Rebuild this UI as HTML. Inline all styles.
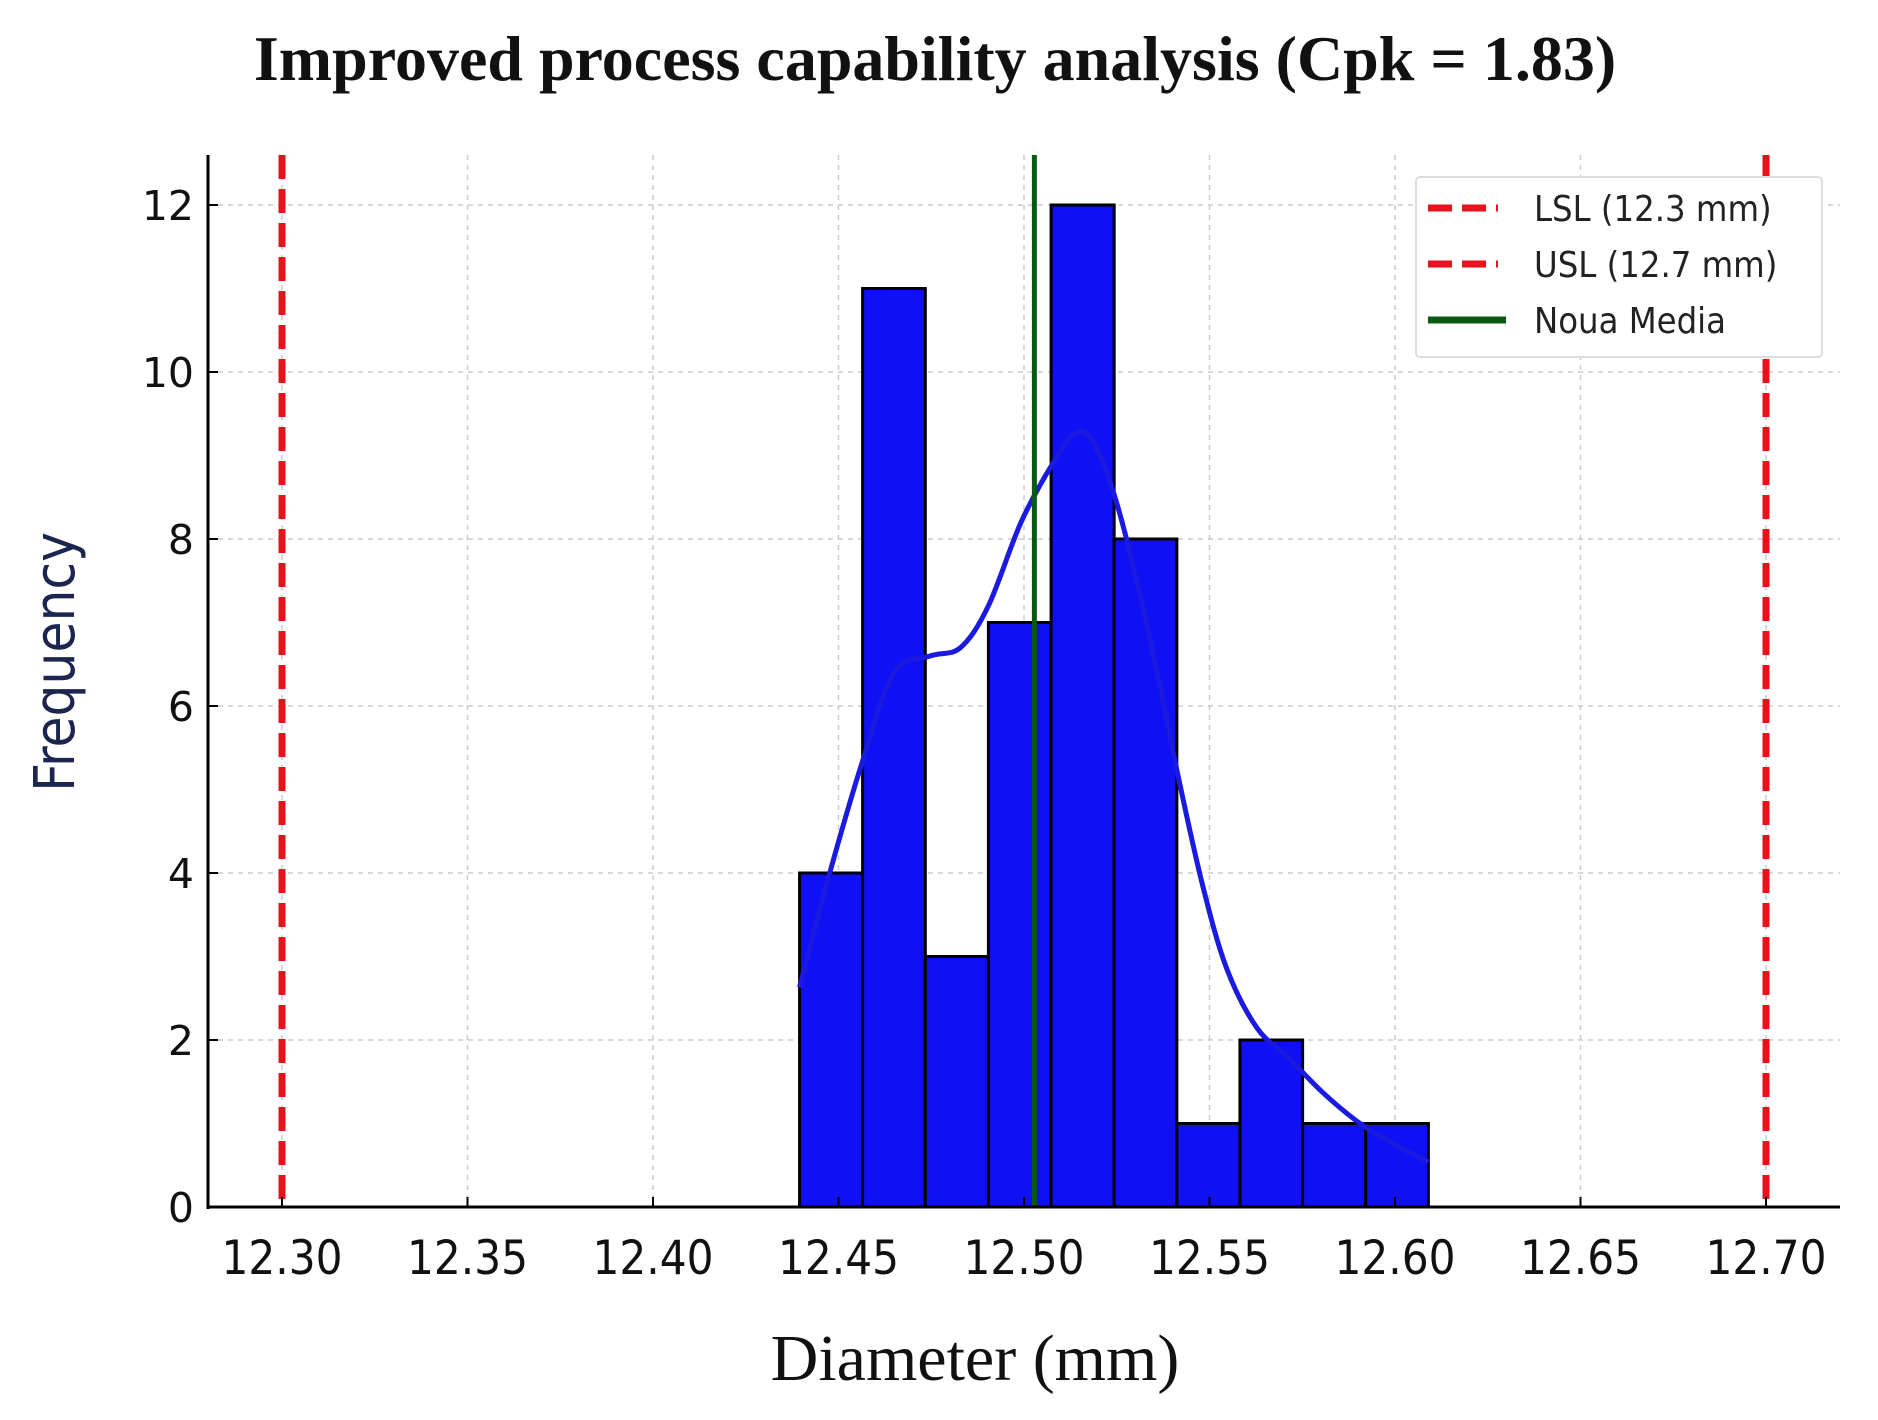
<!DOCTYPE html>
<html><head><meta charset="utf-8"><style>
body{margin:0;background:#fff}
svg{display:block}
</style></head><body>
<svg id="chart" width="1878" height="1420" viewBox="0 0 1878 1420" xmlns="http://www.w3.org/2000/svg">
<rect width="1878" height="1420" fill="#fff"/>
<text x="935" y="80" text-anchor="middle" font-family="Liberation Serif, serif" font-weight="bold" font-size="64" fill="#111">Improved process capability analysis (Cpk = 1.83)</text>
<g id="grid"></g>
<g id="bars"></g>
<g id="lines"></g>
<g id="axes"></g>
<text x="975" y="1380" text-anchor="middle" font-family="Liberation Serif, serif" font-size="66" fill="#111">Diameter (mm)</text>
<text transform="translate(74,662) rotate(-90)" text-anchor="middle" font-family="DejaVu Sans Condensed, DejaVu Sans, sans-serif" font-size="56" fill="#1b2550">Frequency</text>
<g>
<rect x="1416" y="177" width="406" height="180" fill="#fff" stroke="#ddd" stroke-width="2" rx="4"/>
<line x1="1428" y1="208" x2="1498" y2="208" stroke="#e8121a" stroke-width="7" stroke-dasharray="24,10"/>
<text x="1534" y="221" font-family="DejaVu Sans Condensed, DejaVu Sans, sans-serif" font-size="36" fill="#222">LSL (12.3 mm)</text>
<line x1="1428" y1="264" x2="1498" y2="264" stroke="#e8121a" stroke-width="7" stroke-dasharray="24,10"/>
<text x="1534" y="277" font-family="DejaVu Sans Condensed, DejaVu Sans, sans-serif" font-size="36" fill="#222">USL (12.7 mm)</text>
<line x1="1428" y1="320" x2="1506" y2="320" stroke="#0a5a12" stroke-width="7"/>
<text x="1534" y="333" font-family="DejaVu Sans Condensed, DejaVu Sans, sans-serif" font-size="36" fill="#222">Noua Media</text>
</g>
</svg>
<script>
const binEdges=[12.4395,12.4565,12.4734,12.4904,12.5073,12.5243,12.5412,12.5582,12.5751,12.5921,12.6090];
const counts=[4,11,3,7,12,8,1,2,1,1];
const kdeX=[12.4395,12.4470,12.4562,12.4650,12.4748,12.4829,12.4904,12.4992,12.5077,12.5139,12.5188,12.5252,12.5335,12.5416,12.5481,12.5546,12.5627,12.5710,12.5808,12.5906,12.6003,12.6090];
const kdeY=[2.63,3.9,5.3,6.4,6.6,6.7,7.2,8.2,8.9,9.27,9.15,8.4,6.9,5.15,3.86,2.86,2.15,1.8,1.36,1.0,0.74,0.54];
const xTicks=[12.30,12.35,12.40,12.45,12.50,12.55,12.60,12.65,12.70];
const yTicks=[0,2,4,6,8,10,12];
const lsl=12.3, usl=12.7, meanVal=12.5028;
const NS='http://www.w3.org/2000/svg';
const X=v=>282+(v-12.30)*3710;
const Y=v=>1207-v*83.5;
const L=208, R=1840, T=155, B=1207;
function mk(tag,attrs,parent,text){const e=document.createElementNS(NS,tag);for(const k in attrs)e.setAttribute(k,attrs[k]);if(text!==undefined)e.textContent=text;document.getElementById(parent).appendChild(e);return e;}
xTicks.forEach(t=>{
 const g=mk('line',{x1:X(t),x2:X(t),y1:T,y2:B,stroke:'#ccc','stroke-width':1.5,'stroke-dasharray':'5,5'},'grid');
 
 
});
yTicks.forEach(t=>{
 const g=mk('line',{x1:L,x2:R,y1:Y(t),y2:Y(t),stroke:'#ccc','stroke-width':1.5,'stroke-dasharray':'5,5'},'grid');
 
 
});
counts.forEach((c,i)=>{
 const r=mk('rect',{x:X(binEdges[i]),y:Y(c),width:X(binEdges[i+1])-X(binEdges[i]),height:Y(0)-Y(c),fill:'#1010f5',stroke:'#000','stroke-width':3},'bars');
 
 
});
const pts=kdeX.map((x,i)=>[X(x),Y(kdeY[i])]);
let d='M'+pts[0][0]+','+pts[0][1];
for(let i=0;i<pts.length-1;i++){
 const p0=pts[Math.max(0,i-1)],p1=pts[i],p2=pts[i+1],p3=pts[Math.min(pts.length-1,i+2)];
 d+=' C'+(p1[0]+(p2[0]-p0[0])/6)+','+(p1[1]+(p2[1]-p0[1])/6)+' '+(p2[0]-(p3[0]-p1[0])/6)+','+(p2[1]-(p3[1]-p1[1])/6)+' '+p2[0]+','+p2[1];
}
const kd=mk('path',{d:d,fill:'none',stroke:'#1a1ae0','stroke-width':5,'stroke-linejoin':'round'},'lines');


const l1=mk('line',{x1:X(lsl),x2:X(lsl),y1:T,y2:B,stroke:'#e8121a','stroke-width':7,'stroke-dasharray':'24,10'},'lines');


const l2=mk('line',{x1:X(usl),x2:X(usl),y1:T,y2:B,stroke:'#e8121a','stroke-width':7,'stroke-dasharray':'24,10'},'lines');


const m=mk('line',{x1:X(meanVal),x2:X(meanVal),y1:T,y2:B,stroke:'#0a5a12','stroke-width':5},'lines');


const ax1=mk('line',{x1:L,x2:L,y1:T,y2:B+2,stroke:'#000','stroke-width':3},'axes');


const ax2=mk('line',{x1:L-1,x2:R,y1:B,y2:B,stroke:'#000','stroke-width':3},'axes');


xTicks.forEach(t=>{
 const tk=mk('line',{x1:X(t),x2:X(t),y1:B,y2:B-10,stroke:'#000','stroke-width':2},'axes');
 
 
 const lb=mk('text',{x:X(t),y:1274,'text-anchor':'middle','font-family':'DejaVu Sans Condensed, DejaVu Sans, sans-serif','font-size':47,fill:'#111'},'axes',t.toFixed(2));
 
 
});
yTicks.forEach(t=>{
 const tk=mk('line',{x1:L,x2:L+10,y1:Y(t),y2:Y(t),stroke:'#000','stroke-width':2},'axes');
 
 
 const lb=mk('text',{x:194,y:Y(t)+15,'text-anchor':'end','font-family':'DejaVu Sans, sans-serif','font-size':41,fill:'#111'},'axes',String(t));
 
 
});
</script>
</body></html>
